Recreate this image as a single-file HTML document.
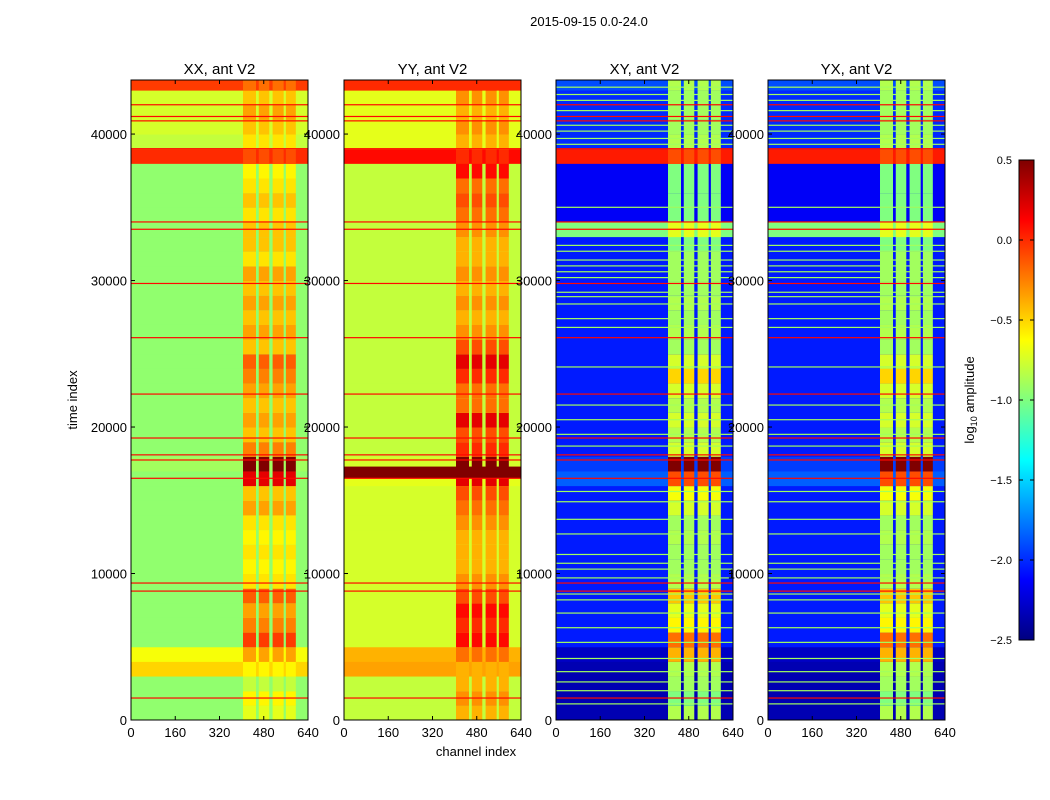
<!DOCTYPE html>
<html><head><meta charset="utf-8"><style>
body{margin:0;background:#fff}
svg{display:block;font-family:"Liberation Sans",sans-serif}
</style></head><body>
<svg id="fig" width="1050" height="800" viewBox="0 0 1050 800" xmlns="http://www.w3.org/2000/svg">
<defs>
<linearGradient id="jet" x1="0" y1="1" x2="0" y2="0">
<stop offset="0" stop-color="#00007f"/><stop offset="0.125" stop-color="#0000ff"/>
<stop offset="0.375" stop-color="#00ffff"/><stop offset="0.625" stop-color="#ffff00"/>
<stop offset="0.875" stop-color="#ff0000"/><stop offset="1" stop-color="#7f0000"/>
</linearGradient>
</defs>
<text x="589" y="26" font-size="13" text-anchor="middle">2015-09-15 0.0-24.0</text>
<text transform="translate(77,400) rotate(-90)" font-size="13" text-anchor="middle">time index</text>
<text x="476" y="756" font-size="13" text-anchor="middle">channel index</text>
<g id="panels"></g>
<g>
<rect x="1019" y="160" width="15" height="480" fill="url(#jet)" stroke="#000" stroke-width="1"/>
<text transform="translate(974,400) rotate(-90)" font-size="13" text-anchor="middle">log<tspan font-size="9" dy="3">10</tspan><tspan dy="-3"> amplitude</tspan></text>
</g>
<g id="cbticks"></g>
</svg>
<script>
// ---- data ----
const channelTicks = [0,160,320,480,640];
const timeTicks = [0,10000,20000,30000,40000];
const panelTitles = ["XX, ant V2","YY, ant V2","XY, ant V2","YX, ant V2"];
const cbTicks = [-2.5,-2.0,-1.5,-1.0,-0.5,0.0,0.5];
const stripeStart = [405,462,512,560];
const stripeEnd = [452,500,552,596];
const binSize = 1000;
const baseXX = [-0.95,-0.95,-0.95,-0.5,-0.65,-0.95,-0.95,-0.95,-0.95,-0.95,-0.95,-0.95,-0.95,-0.95,-0.95,-0.95,-0.95,-0.9,-0.95,-0.95,-0.95,-0.95,-0.95,-0.95,-0.95,-0.95,-0.95,-0.95,-0.95,-0.95,-0.95,-0.95,-0.95,-0.95,-0.95,-0.95,-0.95,-0.95,0.0,-0.8,-0.75,-0.75,-0.75,-0.05];
const stripeXX = [-0.7,-0.6,-0.8,-0.6,-0.35,-0.05,-0.25,-0.35,-0.15,-0.55,-0.6,-0.55,-0.6,-0.55,-0.35,-0.45,0.2,0.5,-0.25,-0.45,-0.35,-0.45,-0.35,-0.25,-0.15,-0.45,-0.35,-0.45,-0.35,-0.45,-0.35,-0.55,-0.45,-0.45,-0.55,-0.45,-0.55,-0.6,-0.1,-0.55,-0.45,-0.35,-0.45,-0.2];
const baseYY = [-0.8,-0.8,-0.8,-0.35,-0.4,-0.75,-0.75,-0.75,-0.75,-0.75,-0.75,-0.75,-0.75,-0.75,-0.75,-0.75,-0.7,-0.75,-0.8,-0.8,-0.8,-0.8,-0.8,-0.8,-0.8,-0.8,-0.8,-0.8,-0.8,-0.8,-0.8,-0.8,-0.8,-0.8,-0.8,-0.8,-0.8,-0.8,0.1,-0.7,-0.7,-0.7,-0.7,0.0];
const stripeYY = [-0.4,-0.3,-0.4,-0.4,-0.2,0.1,0.0,0.1,-0.1,-0.3,-0.4,-0.4,-0.4,-0.3,-0.2,-0.1,0.2,0.5,0.0,-0.1,0.2,-0.2,-0.2,0.0,0.2,-0.1,-0.3,-0.4,-0.3,-0.4,-0.3,-0.4,-0.4,-0.3,-0.2,-0.1,-0.2,0.1,0.0,-0.4,-0.3,-0.4,-0.3,0.0];
const baseXY = [-2.35,-2.35,-2.35,-2.35,-2.3,-2.05,-2.05,-2.05,-2.05,-2.05,-2.05,-2.05,-2.05,-2.05,-2.05,-2.05,-1.85,-1.95,-2.05,-2.05,-2.05,-2.05,-2.05,-2.05,-2.05,-2.05,-2.05,-2.05,-2.05,-2.05,-2.05,-2.05,-2.05,-1.0,-2.15,-2.15,-2.15,-2.15,0.05,-2.0,-2.0,-2.0,-2.0,-1.9];
const stripeXY = [-0.85,-1.0,-0.9,-0.85,-0.4,-0.2,-0.6,-0.7,-0.45,-0.85,-0.9,-0.9,-0.85,-0.9,-0.75,-0.65,-0.1,0.5,-0.75,-0.85,-0.75,-0.85,-0.75,-0.5,-0.75,-0.9,-0.85,-0.9,-0.85,-0.9,-0.9,-0.9,-1.0,-0.7,-1.0,-1.0,-1.0,-1.0,-0.1,-0.85,-0.9,-0.9,-0.9,-0.85];
const baseYX = [-2.35,-2.35,-2.35,-2.35,-2.3,-2.05,-2.05,-2.05,-2.05,-2.05,-2.05,-2.05,-2.05,-2.05,-2.05,-2.05,-1.85,-1.95,-2.05,-2.05,-2.05,-2.05,-2.05,-2.05,-2.05,-2.05,-2.05,-2.05,-2.05,-2.05,-2.05,-2.05,-2.05,-1.0,-2.15,-2.15,-2.15,-2.15,0.05,-2.0,-2.0,-2.0,-2.0,-1.9];
const stripeYX = [-0.85,-1.0,-0.9,-0.85,-0.4,-0.2,-0.6,-0.7,-0.45,-0.85,-0.9,-0.9,-0.85,-0.9,-0.75,-0.65,-0.1,0.5,-0.75,-0.85,-0.75,-0.85,-0.75,-0.5,-0.75,-0.9,-0.85,-0.9,-0.85,-0.9,-0.9,-0.9,-1.0,-0.7,-1.0,-1.0,-1.0,-1.0,-0.1,-0.85,-0.9,-0.9,-0.9,-0.85];
const bandStartYY = [16500];
const bandEndYY = [17300];
const bandValueYY = [0.5];
const redLineTimes = [1500,8800,9350,16500,17750,18100,19250,22250,26100,29800,33500,34000,39000,40900,41200,42000];
const greenLineTimes = [1100,2000,2600,3300,4200,5300,6300,7300,8200,8600,9700,10300,10700,11300,12700,13700,14900,15600,18700,19500,20500,21500,24100,26800,27400,28400,28900,29200,30200,30600,31000,31400,32000,32400,35000,39300,39700,40200,40600,41600,42300,42700,43200];
const tMax = 43690;

// ---- layout ----
const panelX = [131,344,556,768], pW = 177, pTop = 80, pBot = 720;
const vMin = -2.5, vMax = 0.5;
function xScale(p,ch){return panelX[p] + ch/640*pW;}
function yScale(t){return pBot - t/tMax*(pBot-pTop);}
function jet(v){
  let x=(v-vMin)/(vMax-vMin); x=Math.max(0,Math.min(1,x));
  const c=f=>Math.round(255*Math.max(0,Math.min(1,f)));
  return `rgb(${c(1.5-Math.abs(4*x-3))},${c(1.5-Math.abs(4*x-2))},${c(1.5-Math.abs(4*x-1))})`;
}
const NS="http://www.w3.org/2000/svg";
function mk(tag,attrs,parent){const e=document.createElementNS(NS,tag);for(const k in attrs)e.setAttribute(k,attrs[k]);parent.appendChild(e);return e;}
const root=document.getElementById('panels');
const bases=[baseXX,baseYY,baseXY,baseYX], stripes=[stripeXX,stripeYY,stripeXY,stripeYX];
const panelNames=["xx","yy","xy","yx"];
for(let p=0;p<4;p++){
  const g=mk('g',{},root);
  
  
  const base=bases[p], st=stripes[p];
  for(let i=0;i<base.length;i++){
    const t0=i*binSize, t1=Math.min(tMax,(i+1)*binSize);
    const y0=yScale(t1), y1=yScale(t0);
    const r=mk('rect',{x:xScale(p,0),y:y0,width:pW,height:y1-y0+0.5,fill:jet(base[i])},g);
    
    
    for(let s=0;s<stripeStart.length;s++){
      const sx=xScale(p,stripeStart[s]), ex=xScale(p,stripeEnd[s]);
      const c=mk('rect',{x:sx,y:y0,width:ex-sx,height:y1-y0+0.5,fill:jet(st[i])},g);
      
      
    }
  }
  if(p===1){
    for(let b=0;b<bandStartYY.length;b++){
      const r=mk('rect',{x:xScale(p,0),y:yScale(bandEndYY[b]),width:pW,height:yScale(bandStartYY[b])-yScale(bandEndYY[b]),fill:jet(bandValueYY[b])},g);
      
      
    }
  }
  if(p>=2){
    for(const t of greenLineTimes){
      const l=mk('rect',{x:xScale(p,0),y:yScale(t)-0.6,width:pW,height:1.2,fill:jet(-0.9)},g);
      
      
    }
  }
  for(const t of redLineTimes){
    const l=mk('rect',{x:xScale(p,0),y:yScale(t)-0.6,width:pW,height:1.2,fill:jet(0.1)},g);
    
    
  }
  const fr=mk('rect',{x:panelX[p],y:pTop,width:pW,height:pBot-pTop,fill:'none',stroke:'#000','stroke-width':1},g);
  
  
  const tt=mk('text',{x:panelX[p]+pW/2,y:74,'font-size':15,'text-anchor':'middle'},g);
  tt.textContent=panelTitles[p];
  
  
  for(const c of channelTicks){
    const x=xScale(p,c);
    mk('line',{x1:x,x2:x,y1:pBot,y2:pBot-4,stroke:'#000'},g);
    mk('line',{x1:x,x2:x,y1:pTop,y2:pTop+4,stroke:'#000'},g);
    const lab=mk('text',{x:x,y:737,'font-size':13,'text-anchor':'middle'},g);
    lab.textContent=c;
    
    
  }
  for(const t of timeTicks){
    const y=yScale(t);
    mk('line',{x1:panelX[p],x2:panelX[p]+4,y1:y,y2:y,stroke:'#000'},g);
    mk('line',{x1:panelX[p]+pW,x2:panelX[p]+pW-4,y1:y,y2:y,stroke:'#000'},g);
    const lab=mk('text',{x:panelX[p]-4,y:y+5,'font-size':13,'text-anchor':'end'},g);
    lab.textContent=t;
    
    
  }
}
const cb=document.getElementById('cbticks');
for(const v of cbTicks){
  const y=640-(v-vMin)/(vMax-vMin)*480;
  mk('line',{x1:1019,x2:1023,y1:y,y2:y,stroke:'#000'},cb);
  mk('line',{x1:1034,x2:1030,y1:y,y2:y,stroke:'#000'},cb);
  const lab=mk('text',{x:1012,y:y+4,'font-size':11,'text-anchor':'end'},cb);
  lab.textContent=v.toFixed(1).replace('-','\u2212');
  
  
}
</script>
</body></html>
